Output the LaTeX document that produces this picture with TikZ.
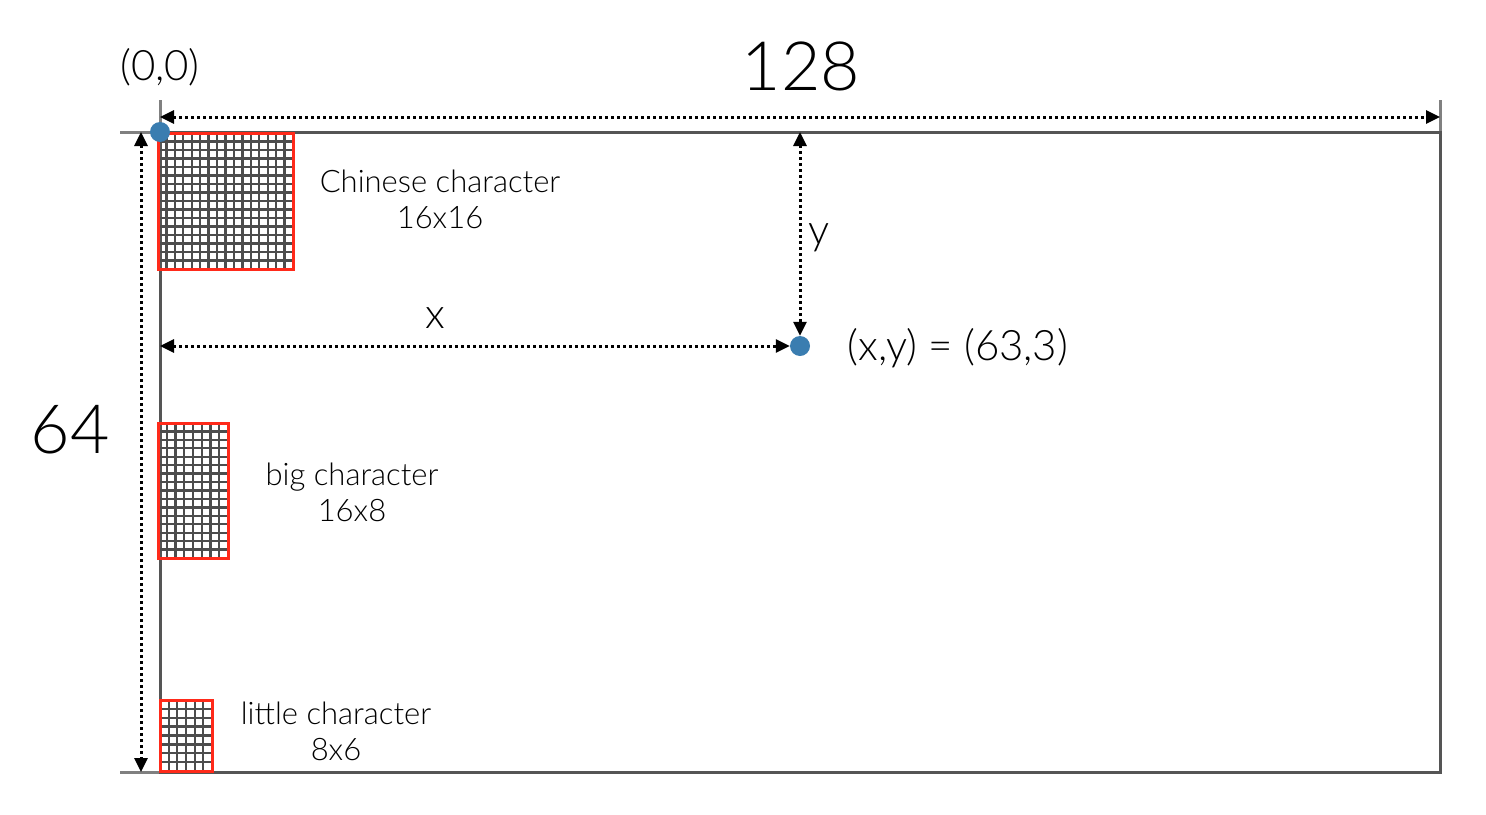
\documentclass[tikz,border=0pt]{standalone}
\usepackage{fontspec}
\setmainfont{Lato}[UprightFont=* Light]
\usetikzlibrary{arrows.meta}
\definecolor{framec}{HTML}{555555}
\definecolor{tickc}{HTML}{808080}
\definecolor{cellc}{HTML}{4D4D4D}
\definecolor{redc}{HTML}{FF2A1A}
\definecolor{dotc}{HTML}{3A7DB0}
\begin{document}
\begin{tikzpicture}[x=1pt,y=-1pt,
  dimline/.style={line width=3pt, dash pattern=on 3pt off 3pt,
    {Triangle[length=14pt,width=13pt]}-{Triangle[length=14pt,width=13pt]}},
  lbl/.style={font=\fontsize{31}{36}\selectfont, align=center, inner sep=0pt},
  biglbl/.style={font=\fontsize{68}{80}\selectfont, inner sep=0pt},
  midlbl/.style={font=\fontsize{42}{48}\selectfont, inner sep=0pt},
  tickline/.style={draw=tickc, line width=3pt},
  cellline/.style={draw=cellc, line width=2.3pt},
  redbox/.style={draw=redc, line width=3pt},
  dotmark/.style={circle, fill=dotc, minimum size=20pt, inner sep=0pt}]
\useasboundingbox (0,0) rectangle (1486,814);

% ticks
\coordinate (tl) at (160,132);
\coordinate (tr) at (1440,132);
\coordinate (bl) at (160,772);
\draw[tickline] (160,100) -- (tl);
\draw[tickline] (1440,100) -- (tr);
\draw[tickline] (120,132) -- (tl);
\draw[tickline] (120,772) -- (bl);

% main frame
\draw[draw=framec, line width=3pt] (160,132) rectangle (1440,772);

% Chinese character grid 16x16
\foreach \i in {1,...,15} {
  \draw[cellline] ({158+\i*135/16},133) -- ({158+\i*135/16},269);
  \draw[cellline] (158,{133+\i*136/16}) -- (293,{133+\i*136/16});
}
\draw[redbox] (158,133) rectangle (293,269);

% big character grid 16x8
\foreach \i in {1,...,7} {
  \draw[cellline] ({158+\i*70/8},423) -- ({158+\i*70/8},558);
}
\foreach \i in {1,...,15} {
  \draw[cellline] (158,{423+\i*135/16}) -- (228,{423+\i*135/16});
}
\draw[cellline, line width=3pt] (158,490.5) -- (228,490.5);
\draw[redbox] (158,423) rectangle (228,558);

% little character grid 8x6
\foreach \i in {1,...,5} {
  \draw[cellline] ({160+\i*52/6},700) -- ({160+\i*52/6},771);
}
\foreach \i in {1,...,7} {
  \draw[cellline] (160,{700+\i*71/8}) -- (212,{700+\i*71/8});
}
\draw[redbox] (160,700) rectangle (212,771);

% dots
\node[dotmark] (origin) at (160,132) {};
\node[dotmark] (pt) at (800,346) {};

% dimension coordinates
\coordinate (wA) at (160,117);
\coordinate (wB) at (1440,117);
\coordinate (hA) at (141,132);
\coordinate (hB) at (141,772);
\coordinate (xA) at (160,346);
\coordinate (yA) at (800,132);

\draw[dimline] (wA) -- (wB);
\draw[dimline] (hA) -- (hB);
\draw[dimline] (xA) -- (pt.west);
\draw[dimline] (yA) -- (pt.north);

% labels
\node[midlbl] (lorigin) at (160,67) {(0,0)};
\node[biglbl] (lw) at (801,66) {128};
\node[biglbl] (lh) at (70,430) {64};
\node[midlbl] (lx) at (435,318) {x};
\node[midlbl] (ly) at (819,238) {y};
\node[midlbl] (lpt) at (958,348) {(x,y) = (63,3)};
\node[lbl] (lchin) at (440,199) {Chinese character\\16x16};
\node[lbl] (lbig) at (352,492) {big character\\16x8};
\node[lbl] (llit) at (336,731) {little character\\8x6};
\end{tikzpicture}
\end{document}
